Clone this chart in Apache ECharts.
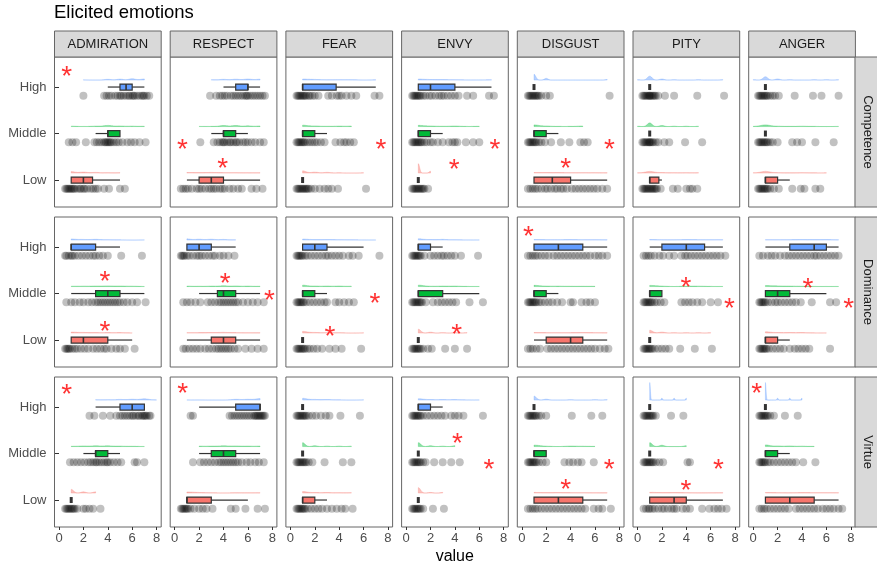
<!DOCTYPE html>
<html>
<head>
<meta charset="utf-8">
<script src="https://cdn.jsdelivr.net/npm/echarts@6/dist/echarts.min.js"></script>
<style>
  html, body { margin: 0; padding: 0; background: #fff; }
  #chart { width: 877px; height: 567px; }
</style>
</head>
<body>
<div id="chart"></div>
<script>
// facets
const emotions = ['ADMIRATION', 'RESPECT', 'FEAR', 'ENVY', 'DISGUST', 'PITY', 'ANGER'];
const traits = ['Competence', 'Dominance', 'Virtue'];
const levels = ['High', 'Middle', 'Low'];
const levelPos = [3, 2, 1];
const xTicks = [0, 2, 4, 6, 8];

// box stats per emotion: [min, q1, median, q3, max] for High, Middle, Low
const competenceBoxes = [
  [[4, 5, 5.5, 6, 7], [3, 4, 4, 5, 5], [1, 1, 2, 2.75, 5]],
  [[4, 5, 6, 6, 7], [3, 4, 4, 5, 6], [1, 2, 3, 4, 7]],
  [[1, 1, 1, 3.75, 7], [1, 1, 1, 2, 3], [1, 1, 1, 1, 1]],
  [[1, 1, 2, 4, 7], [1, 1, 1, 2, 3], [1, 1, 1, 1, 1]],
  [[1, 1, 1, 1, 1], [1, 1, 1, 2, 3], [1, 1, 2.5, 4, 7]],
  [[1, 1, 1, 1, 1], [1, 1, 1, 1, 1], [1, 1, 1, 1.75, 2]],
  [[1, 1, 1, 1, 1], [1, 1, 1, 1, 1], [1, 1, 1, 2, 3]]
];
const dominanceBoxes = [
  [[1, 1, 1, 3, 5], [1, 3, 4, 5, 7], [1, 1, 2, 4, 6]],
  [[1, 1, 2, 3, 5], [2, 3.5, 4, 5, 7], [1, 3, 4, 5, 7]],
  [[1, 1, 2, 3, 6], [1, 1, 1, 2, 3], [1, 1, 1, 1, 1]],
  [[1, 1, 1, 2, 3], [1, 1, 1, 3, 6], [1, 1, 1, 1, 1]],
  [[1, 1, 3, 5, 7], [1, 1, 1, 2, 3], [1, 2, 4, 5, 7]],
  [[1, 2, 4, 5.5, 7], [1, 1, 1, 2, 2], [1, 1, 1, 1, 1]],
  [[1, 3, 5, 6, 7], [1, 1, 2, 3, 6], [1, 1, 1, 2, 3]]
];
const virtueBoxes = [
  [[3, 5, 6, 7, 7], [2, 3, 3, 4, 5], [1, 1, 1, 1, 1]],
  [[2, 5, 7, 7, 7], [2, 3, 4, 5, 7], [1, 1, 1, 3, 6]],
  [[1, 1, 1, 1, 1], [1, 1, 1, 1, 1], [1, 1, 1, 2, 3]],
  [[1, 1, 1, 2, 3], [1, 1, 1, 1, 1], [1, 1, 1, 1, 1]],
  [[1, 1, 1, 1, 1], [1, 1, 1, 2, 2], [1, 1, 3, 5, 7]],
  [[1, 1, 1, 1, 1], [1, 1, 1, 1, 1], [1, 1, 3, 4, 7]],
  [[1, 1, 1, 1, 1], [1, 1, 1, 2, 3], [1, 1, 3, 5, 7]]
];

// jittered responses per emotion: High, Middle, Low
const competencePoints = [
  [[2.0, 3.7, 3.9, 4.1, 4.3, 4.6, 4.8, 5.0, 5.1, 5.3, 5.5, 5.7, 5.8, 6.0, 6.1, 6.2, 6.4, 6.6, 6.8, 6.9, 7.0, 7.2, 7.4],
   [0.8, 1.1, 1.4, 2.2, 2.9, 3.1, 3.3, 3.5, 3.7, 3.8, 3.9, 4.0, 4.1, 4.2, 4.3, 4.5, 4.7, 4.9, 5.2, 5.6, 5.9, 6.2, 6.6, 7.1],
   [0.5, 0.6, 0.7, 0.8, 0.9, 1.0, 1.1, 1.2, 1.3, 1.5, 1.7, 1.8, 2.0, 2.1, 2.3, 2.6, 2.8, 3.0, 3.2, 3.7, 4.1, 5.0, 5.4]],
  [[2.9, 3.4, 3.7, 3.9, 4.1, 4.3, 4.6, 4.8, 5.0, 5.2, 5.4, 5.6, 5.8, 5.9, 6.0, 6.2, 6.4, 6.6, 6.8, 7.0, 7.2, 7.4],
   [2.1, 3.2, 3.5, 3.7, 3.9, 4.0, 4.1, 4.3, 4.5, 4.6, 4.8, 5.0, 5.1, 5.3, 5.6, 5.8, 6.0, 6.3, 6.6, 7.0, 7.3],
   [0.5, 0.7, 0.9, 1.1, 1.4, 1.8, 2.0, 2.2, 2.5, 2.8, 3.0, 3.2, 3.4, 3.7, 3.9, 4.1, 4.5, 4.8, 5.2, 5.5, 6.3, 6.7, 7.2]],
  [[0.5, 0.6, 0.7, 0.8, 0.9, 1.0, 1.1, 1.2, 1.3, 1.5, 1.6, 1.8, 2.0, 2.3, 3.1, 3.4, 3.8, 4.0, 4.2, 4.6, 5.0, 5.4, 6.9, 7.3],
   [0.5, 0.6, 0.7, 0.8, 0.9, 1.0, 1.1, 1.2, 1.4, 1.6, 1.8, 2.0, 2.2, 2.5, 2.8, 3.7, 4.1, 4.4, 4.6, 4.9, 5.2],
   [0.5, 0.6, 0.7, 0.8, 0.9, 1.0, 1.1, 1.2, 1.3, 1.4, 1.5, 1.7, 2.0, 2.4, 2.8, 3.1, 3.4, 3.9, 6.2]],
  [[0.5, 0.6, 0.7, 0.8, 0.9, 1.0, 1.1, 1.2, 1.4, 1.6, 1.9, 2.1, 2.4, 2.7, 2.9, 3.1, 3.4, 3.7, 4.0, 4.3, 5.0, 5.5, 6.8, 7.2],
   [0.5, 0.6, 0.7, 0.8, 0.9, 1.0, 1.1, 1.2, 1.3, 1.5, 1.7, 2.0, 2.2, 2.6, 3.0, 3.5, 3.8, 4.0, 4.2, 4.9, 5.5, 6.0],
   [0.5, 0.6, 0.7, 0.8, 0.9, 1.0, 1.1, 1.2, 1.3, 1.4, 1.5, 1.8]],
  [[0.5, 0.6, 0.7, 0.8, 0.9, 1.0, 1.1, 1.2, 1.3, 1.4, 1.6, 2.0, 2.3, 7.2],
   [0.5, 0.6, 0.7, 0.8, 0.9, 1.0, 1.1, 1.2, 1.4, 1.6, 1.9, 2.4, 3.2, 3.9, 4.8, 5.1, 5.4],
   [0.5, 0.7, 0.9, 1.1, 1.3, 1.6, 1.9, 2.1, 2.4, 2.7, 2.9, 3.2, 3.4, 3.7, 4.1, 4.4, 4.7, 5.0, 5.3, 5.6, 5.9, 6.2, 6.6, 7.0]],
  [[0.4, 0.5, 0.6, 0.7, 0.8, 0.9, 1.0, 1.0, 1.1, 1.2, 1.3, 1.4, 1.5, 1.7, 2.25, 3.0, 4.9, 7.1],
   [0.4, 0.5, 0.6, 0.7, 0.8, 0.9, 1.0, 1.0, 1.1, 1.2, 1.3, 1.5, 1.7, 2.2, 2.6, 3.9, 5.3],
   [0.4, 0.5, 0.6, 0.7, 0.8, 0.9, 1.0, 1.1, 1.2, 1.3, 1.4, 1.5, 1.6, 1.9, 2.9, 3.3, 4.0, 4.3, 4.5, 4.9]],
  [[0.4, 0.5, 0.6, 0.7, 0.8, 0.9, 1.0, 1.1, 1.2, 1.4, 1.6, 1.8, 2.1, 3.4, 4.9, 5.6, 7.0],
   [0.4, 0.5, 0.6, 0.7, 0.8, 0.9, 1.0, 1.1, 1.2, 1.4, 1.6, 2.0, 3.2, 3.6, 4.0, 5.1, 6.6],
   [0.4, 0.5, 0.6, 0.7, 0.8, 0.9, 1.0, 1.1, 1.2, 1.4, 1.7, 2.1, 3.2, 3.9, 4.2, 5.1, 5.5]]
];
const dominancePoints = [
  [[0.5, 0.6, 0.8, 1.0, 1.1, 1.3, 1.6, 1.9, 2.2, 2.5, 2.8, 3.0, 3.3, 3.6, 4.0, 5.1, 6.8],
   [0.6, 1.0, 1.3, 1.7, 2.0, 2.4, 2.7, 3.0, 3.2, 3.4, 3.6, 3.8, 4.0, 4.2, 4.4, 4.6, 4.8, 5.0, 5.3, 5.6, 6.0, 6.4, 7.1],
   [0.5, 0.6, 0.7, 0.8, 0.9, 1.1, 1.3, 1.5, 1.8, 2.1, 2.4, 2.8, 3.1, 3.4, 3.7, 3.9, 4.3, 4.7, 5.0, 5.4, 6.2]],
  [[0.5, 0.6, 0.7, 0.8, 1.0, 1.2, 1.5, 1.8, 2.0, 2.2, 2.5, 2.8, 3.1, 3.3, 3.7, 4.0, 4.4, 4.9],
   [0.7, 1.0, 1.3, 1.7, 2.1, 2.7, 3.0, 3.3, 3.6, 3.8, 4.0, 4.2, 4.4, 4.6, 4.8, 5.0, 5.2, 5.6, 6.0, 6.4, 6.8, 7.3],
   [0.7, 0.9, 1.2, 1.5, 1.8, 2.1, 2.5, 2.8, 3.1, 3.4, 3.6, 3.8, 4.0, 4.2, 4.4, 4.6, 4.9, 5.2, 5.8, 6.3, 6.8, 7.3]],
  [[0.5, 0.6, 0.7, 0.8, 0.9, 1.0, 1.2, 1.4, 1.7, 2.0, 2.3, 2.6, 2.9, 3.1, 3.4, 3.7, 4.0, 4.3, 4.8, 5.1, 5.6, 7.3],
   [0.5, 0.6, 0.7, 0.8, 0.9, 1.0, 1.1, 1.3, 1.6, 1.9, 2.2, 2.5, 2.8, 3.0, 3.7, 4.0, 4.4, 4.8, 5.2],
   [0.5, 0.6, 0.7, 0.8, 0.9, 1.0, 1.1, 1.2, 1.4, 1.6, 1.9, 2.2, 2.6, 3.2, 3.7, 4.2, 5.8]],
  [[0.5, 0.6, 0.7, 0.8, 0.9, 1.0, 1.1, 1.2, 1.5, 2.0, 2.3, 2.6, 2.9, 3.1, 3.4, 3.7, 4.0, 4.5, 5.9],
   [0.5, 0.6, 0.7, 0.8, 0.9, 1.0, 1.1, 1.2, 1.3, 1.6, 2.2, 2.6, 2.9, 3.2, 3.5, 3.8, 4.1, 5.2, 6.3],
   [0.5, 0.6, 0.7, 0.8, 0.9, 1.0, 1.1, 1.2, 1.4, 1.8, 2.1, 3.2, 4.0, 5.0]],
  [[0.5, 0.7, 0.9, 1.1, 1.3, 1.6, 1.9, 2.2, 2.6, 2.9, 3.2, 3.5, 3.8, 4.1, 4.4, 4.7, 5.0, 5.3, 5.6, 6.0, 6.3, 6.6, 7.0],
   [0.5, 0.6, 0.7, 0.8, 0.9, 1.0, 1.1, 1.2, 1.4, 1.6, 1.9, 2.2, 2.5, 2.9, 3.3, 4.0, 4.2, 4.9, 5.3, 5.6, 6.0],
   [0.5, 0.7, 0.9, 1.2, 1.5, 2.1, 2.4, 2.7, 3.0, 3.3, 3.6, 3.9, 4.2, 4.5, 4.8, 5.1, 5.4, 5.7, 6.0, 6.4, 6.8, 7.1]],
  [[0.5, 0.7, 0.9, 1.1, 1.4, 1.8, 2.1, 2.6, 3.0, 3.6, 3.9, 4.1, 4.4, 4.7, 5.0, 5.3, 5.6, 5.9, 6.2, 6.5, 6.8, 7.2],
   [0.5, 0.6, 0.7, 0.8, 0.9, 1.0, 1.1, 1.2, 1.4, 1.6, 1.9, 2.2, 3.6, 3.9, 4.2, 4.5, 4.9, 5.3, 6.0, 6.6],
   [0.5, 0.6, 0.7, 0.8, 0.9, 1.0, 1.1, 1.2, 1.4, 1.7, 2.0, 2.3, 2.6, 3.5, 4.7, 6.1]],
  [[0.5, 0.8, 1.2, 1.5, 1.8, 2.2, 2.6, 2.9, 3.2, 3.5, 3.8, 4.1, 4.4, 4.7, 5.0, 5.2, 5.5, 5.8, 6.1, 6.4, 6.7, 7.0],
   [0.5, 0.6, 0.7, 0.8, 0.9, 1.0, 1.2, 1.5, 1.8, 2.0, 2.3, 2.6, 2.9, 3.2, 3.5, 3.9, 4.8, 6.3, 6.8],
   [0.5, 0.6, 0.7, 0.8, 0.9, 1.0, 1.1, 1.3, 1.6, 1.9, 2.2, 2.5, 3.0, 3.4, 3.7, 4.0, 4.3, 4.6, 6.3]]
];
const virtuePoints = [
  [[2.5, 2.9, 3.6, 4.2, 4.7, 5.0, 5.2, 5.4, 5.6, 5.8, 6.0, 6.1, 6.3, 6.5, 6.6, 6.8, 6.9, 7.0, 7.1, 7.2, 7.4, 7.5],
   [0.9, 1.2, 1.5, 1.8, 2.1, 2.4, 2.6, 2.8, 3.0, 3.1, 3.3, 3.5, 3.7, 3.9, 4.0, 4.2, 4.5, 4.8, 5.1, 6.2, 6.4, 7.0],
   [0.5, 0.6, 0.7, 0.8, 0.9, 1.0, 1.1, 1.2, 1.3, 1.5, 2.0, 2.2, 2.5, 2.8, 3.4]],
  [[1.3, 1.5, 4.5, 4.7, 4.9, 5.1, 5.3, 5.5, 5.7, 5.9, 6.1, 6.3, 6.5, 6.6, 6.7, 6.8, 6.9, 7.0, 7.1, 7.2, 7.3, 7.4],
   [1.5, 2.1, 2.4, 2.7, 3.0, 3.3, 3.6, 3.8, 4.0, 4.2, 4.4, 4.6, 4.8, 5.0, 5.2, 5.5, 5.9, 6.2, 6.6, 6.9, 7.3],
   [0.5, 0.6, 0.7, 0.8, 0.9, 1.0, 1.1, 1.3, 1.6, 2.0, 2.3, 2.6, 3.1, 4.6, 5.0, 5.8, 6.8, 7.4]],
  [[0.5, 0.6, 0.7, 0.8, 0.9, 1.0, 1.1, 1.2, 1.3, 1.5, 1.8, 2.1, 2.5, 2.9, 3.2, 4.1, 5.7],
   [0.5, 0.6, 0.7, 0.8, 0.9, 1.0, 1.1, 1.2, 1.3, 1.5, 1.8, 2.8, 4.3, 5.0],
   [0.5, 0.6, 0.7, 0.8, 0.9, 1.0, 1.1, 1.2, 1.4, 1.7, 2.0, 2.3, 2.6, 3.0, 3.4, 3.8, 4.2, 4.5, 5.1]],
  [[0.5, 0.6, 0.7, 0.8, 0.9, 1.0, 1.1, 1.2, 1.4, 1.7, 2.0, 2.3, 2.6, 2.9, 3.2, 3.7, 4.0, 4.3, 4.7, 6.3],
   [0.5, 0.6, 0.7, 0.8, 0.9, 1.0, 1.1, 1.2, 1.4, 1.6, 2.3, 3.0, 3.7, 4.4],
   [0.5, 0.6, 0.7, 0.8, 0.9, 1.0, 1.1, 1.2, 1.4, 2.2, 3.1]],
  [[0.5, 0.6, 0.7, 0.8, 0.9, 1.0, 1.1, 1.2, 1.4, 1.6, 2.0, 4.1, 5.7, 6.6],
   [0.5, 0.6, 0.7, 0.8, 0.9, 1.0, 1.1, 1.2, 1.4, 1.7, 2.0, 3.5, 3.9, 4.2, 4.6, 4.9, 5.9],
   [0.5, 0.7, 0.9, 1.1, 1.3, 1.6, 1.9, 2.2, 2.5, 2.8, 3.1, 3.4, 3.7, 4.0, 4.3, 4.6, 4.9, 5.2, 5.9, 6.3, 6.6, 7.3]],
  [[0.5, 0.6, 0.7, 0.8, 0.9, 1.0, 1.1, 1.2, 1.3, 1.5, 2.75, 3.76],
   [0.5, 0.6, 0.7, 0.8, 0.9, 1.0, 1.1, 1.2, 1.3, 1.5, 1.8, 2.1, 4.1, 4.3],
   [0.5, 0.7, 0.9, 1.0, 1.2, 1.4, 1.7, 2.0, 2.2, 2.5, 2.8, 3.0, 3.2, 3.7, 4.0, 4.3, 5.3, 5.9, 6.3, 6.6, 6.9, 7.3]],
  [[0.5, 0.6, 0.7, 0.8, 0.9, 1.0, 1.1, 1.2, 1.4, 1.7, 2.6, 3.65],
   [0.5, 0.6, 0.7, 0.8, 0.9, 1.0, 1.2, 1.4, 1.7, 2.0, 2.3, 2.6, 2.9, 3.2, 3.5, 4.1, 5.1],
   [0.5, 0.7, 0.9, 1.1, 1.4, 1.7, 2.0, 2.3, 2.6, 2.9, 3.5, 3.8, 4.1, 4.4, 4.7, 5.0, 5.3, 5.7, 6.0, 6.3, 6.6, 7.0, 7.3]]
];

// significance marks: [emotion index, value, level position]
const competenceStars = [[0, 0.63, 3.35], [1, 0.63, 1.80], [1, 3.93, 1.39], [2, 7.43, 1.80],
  [3, 7.29, 1.80], [3, 3.95, 1.37], [4, 7.18, 1.80], [4, 3.6, 1.39]];
const dominanceStars = [[0, 3.77, 2.40], [0, 3.77, 1.32], [1, 4.13, 2.36], [1, 7.76, 1.98],
  [2, 6.93, 1.93], [2, 3.25, 1.22], [3, 4.14, 1.25], [4, 0.54, 3.37],
  [5, 3.98, 2.27], [5, 7.53, 1.82], [6, 4.49, 2.24], [6, 7.83, 1.82]];
const virtueStars = [[0, 0.63, 3.40], [1, 0.66, 3.42], [3, 4.2, 2.34], [3, 6.79, 1.79],
  [4, 7.17, 1.79], [4, 3.6, 1.37], [5, 6.63, 1.79], [5, 3.98, 1.34], [6, 0.28, 3.42]];

const boxesByTrait = [competenceBoxes, dominanceBoxes, virtueBoxes];
const pointsByTrait = [competencePoints, dominancePoints, virtuePoints];
const starsByTrait = [competenceStars, dominanceStars, virtueStars];

// layout
const PANEL_LEFT = 54.5, PANEL_STEP = 115.7, PANEL_W = 106.7;
const PANEL_TOP = 57, ROW_STEP = 160, PANEL_H = 150;
const X_MIN = -0.37, X_MAX = 8.38, Y_MIN = 0.42, Y_MAX = 3.646;
const fillColors = ['#619CFF', '#00BA38', '#F8766D'];
const BORDER = '#666666';
const DENSITY_K = 3, DENSITY_CAP = 20, BW_ADJUST = 0.5;

// half-violin outline from the rounded responses (nrd0 bandwidth, trimmed to range)
function slabCurve(values) {
  const r = values.map(v => Math.round(v)).sort((a, b) => a - b);
  const n = r.length;
  const mean = r.reduce((a, b) => a + b, 0) / n;
  const sd = Math.sqrt(r.reduce((a, b) => a + (b - mean) * (b - mean), 0) / (n - 1));
  const q = p => {
    const h = (n - 1) * p, lo = Math.floor(h);
    return r[lo] + (h - lo) * (r[Math.min(lo + 1, n - 1)] - r[lo]);
  };
  let lo = Math.min(sd, (q(0.75) - q(0.25)) / 1.34);
  if (!lo) lo = sd || 1;
  const bw = BW_ADJUST * 0.9 * lo * Math.pow(n, -0.2);
  const curve = [];
  for (let x = r[0]; x <= r[n - 1] + 1e-9; x += 0.02) {
    let f = 0;
    r.forEach(v => { const z = (x - v) / bw; f += Math.exp(-0.5 * z * z); });
    curve.push([x, f / (n * bw * Math.sqrt(2 * Math.PI))]);
  }
  return curve;
}

function renderBox(params, api) {
  const lvl = api.value(5);
  const px = k => api.coord([api.value(k), lvl]);
  const p0 = px(0), p1 = px(1), p2 = px(2), p3 = px(3), p4 = px(4);
  const cy = p0[1], h = 6;
  const line = (x1, y1, x2, y2, w) => ({
    type: 'line', shape: { x1, y1, x2, y2 }, style: { stroke: '#333', lineWidth: w }
  });
  const children = [line(p0[0], cy, p1[0], cy, 1.2), line(p3[0], cy, p4[0], cy, 1.2)];
  if (p3[0] - p1[0] < 1) {
    children.push({ type: 'rect', shape: { x: p1[0] - 1.5, y: cy - h / 2, width: 3, height: h }, style: { fill: '#333' } });
  } else {
    children.push({
      type: 'rect', shape: { x: p1[0], y: cy - h / 2, width: p3[0] - p1[0], height: h },
      style: { fill: fillColors[params.dataIndex], stroke: '#333', lineWidth: 1.2 }
    });
    children.push(line(p2[0], cy - h / 2, p2[0], cy + h / 2, 1.6));
  }
  return { type: 'group', children };
}

function makeDensityRenderer(curves) {
  return function (params, api) {
    const base = api.value(1);
    const curve = curves[params.dataIndex];
    const pts = [api.coord([curve[0][0], base])];
    curve.forEach(([x, f]) => {
      const c = api.coord([x, base]);
      pts.push([c[0], c[1] - Math.min(f * DENSITY_K, DENSITY_CAP)]);
    });
    pts.push(api.coord([curve[curve.length - 1][0], base]));
    const color = fillColors[params.dataIndex];
    return {
      type: 'polygon', shape: { points: pts },
      style: { fill: color, opacity: 0.45, stroke: color, lineWidth: 0.6 }
    };
  };
}

const grids = [], xAxes = [], yAxes = [], series = [], graphics = [];

traits.forEach((trait, r) => {
  const top = PANEL_TOP + r * ROW_STEP;
  emotions.forEach((emo, c) => {
    const gi = r * emotions.length + c;
    const left = PANEL_LEFT + c * PANEL_STEP;
    grids.push({
      left, top, width: PANEL_W, height: PANEL_H,
      show: true, backgroundColor: '#fff', borderColor: BORDER, borderWidth: 1
    });
    const bottomRow = r === traits.length - 1;
    xAxes.push({
      gridIndex: gi, type: 'value', min: X_MIN, max: X_MAX,
      axisLine: { show: false }, splitLine: { show: false },
      axisTick: { show: bottomRow, customValues: xTicks, length: 3, lineStyle: { color: '#333' } },
      axisLabel: { show: bottomRow, customValues: xTicks, color: '#4D4D4D', fontSize: 13, margin: 5, fontFamily: 'Liberation Sans, Arial, sans-serif' }
    });
    yAxes.push({
      gridIndex: gi, type: 'value', min: Y_MIN, max: Y_MAX,
      axisLine: { show: false }, splitLine: { show: false },
      axisTick: { show: c === 0, customValues: levelPos, length: 4, lineStyle: { color: '#333' } },
      axisLabel: {
        show: c === 0, customValues: levelPos, color: '#4D4D4D', fontSize: 13, margin: 8,
        fontFamily: 'Liberation Sans, Arial, sans-serif',
        formatter: v => levels[levelPos.indexOf(v)]
      }
    });

    const boxes = boxesByTrait[r][c];
    const pts = pointsByTrait[r][c];

    // densities (above)
    const curves = pts.map(slabCurve);
    series.push({
      type: 'custom', xAxisIndex: gi, yAxisIndex: gi, silent: true,
      renderItem: makeDensityRenderer(curves),
      data: levelPos.map((lp, i) => [curves[i][0][0], lp + 0.15])
    });
    // jittered points (below)
    const scatterData = [];
    pts.forEach((arr, i) => arr.forEach(v => scatterData.push([v, levelPos[i] - 0.19])));
    series.push({
      type: 'scatter', xAxisIndex: gi, yAxisIndex: gi, silent: true,
      symbolSize: 8, itemStyle: { color: 'rgba(0,0,0,0.3)' },
      data: scatterData
    });
    // boxes
    series.push({
      type: 'custom', xAxisIndex: gi, yAxisIndex: gi, silent: true,
      renderItem: renderBox,
      encode: { x: [0, 1, 2, 3, 4], y: 5 },
      data: boxes.map((b, i) => b.concat([levelPos[i]]))
    });
    // stars
    series.push({
      type: 'scatter', xAxisIndex: gi, yAxisIndex: gi, silent: true,
      symbolSize: 1, itemStyle: { color: 'rgba(0,0,0,0)' },
      label: {
        show: true, position: 'inside', formatter: '*', color: '#FF0000',
        fontSize: 28, fontFamily: 'Liberation Sans, Arial, sans-serif', offset: [0, 7]
      },
      data: starsByTrait[r].filter(s => s[0] === c).map(s => [s[1], s[2]])
    });

    if (r === 0) {
      graphics.push({
        type: 'rect', shape: { x: left, y: 31, width: PANEL_W, height: 26 },
        style: { fill: '#D9D9D9', stroke: BORDER, lineWidth: 1 }
      });
      graphics.push({
        type: 'text', x: left + PANEL_W / 2, y: 44.5,
        style: { text: emo, fill: '#1A1A1A', font: '13px "Liberation Sans", Arial, sans-serif', align: 'center', verticalAlign: 'middle' }
      });
    }
  });
  graphics.push({
    type: 'rect', shape: { x: 855, y: top, width: 26, height: PANEL_H },
    style: { fill: '#D9D9D9', stroke: BORDER, lineWidth: 1 }
  });
  graphics.push({
    type: 'text', x: 867.5, y: top + PANEL_H / 2, rotation: -Math.PI / 2,
    style: { text: trait, fill: '#1A1A1A', font: '13px "Liberation Sans", Arial, sans-serif', align: 'center', verticalAlign: 'middle' }
  });
});

graphics.push({
  type: 'text', x: 54, y: 13,
  style: { text: 'Elicited emotions', fill: '#000', font: '18.5px "Liberation Sans", Arial, sans-serif', align: 'left', verticalAlign: 'middle' }
});
graphics.push({
  type: 'text', x: (PANEL_LEFT + 855) / 2, y: 557,
  style: { text: 'value', fill: '#000', font: '16px "Liberation Sans", Arial, sans-serif', align: 'center', verticalAlign: 'middle' }
});

const chart = echarts.init(document.getElementById('chart'), null, { renderer: 'canvas' });
chart.setOption({
  animation: false,
  backgroundColor: '#fff',
  grid: grids,
  xAxis: xAxes,
  yAxis: yAxes,
  series,
  graphic: graphics
});
</script>
</body>
</html>
